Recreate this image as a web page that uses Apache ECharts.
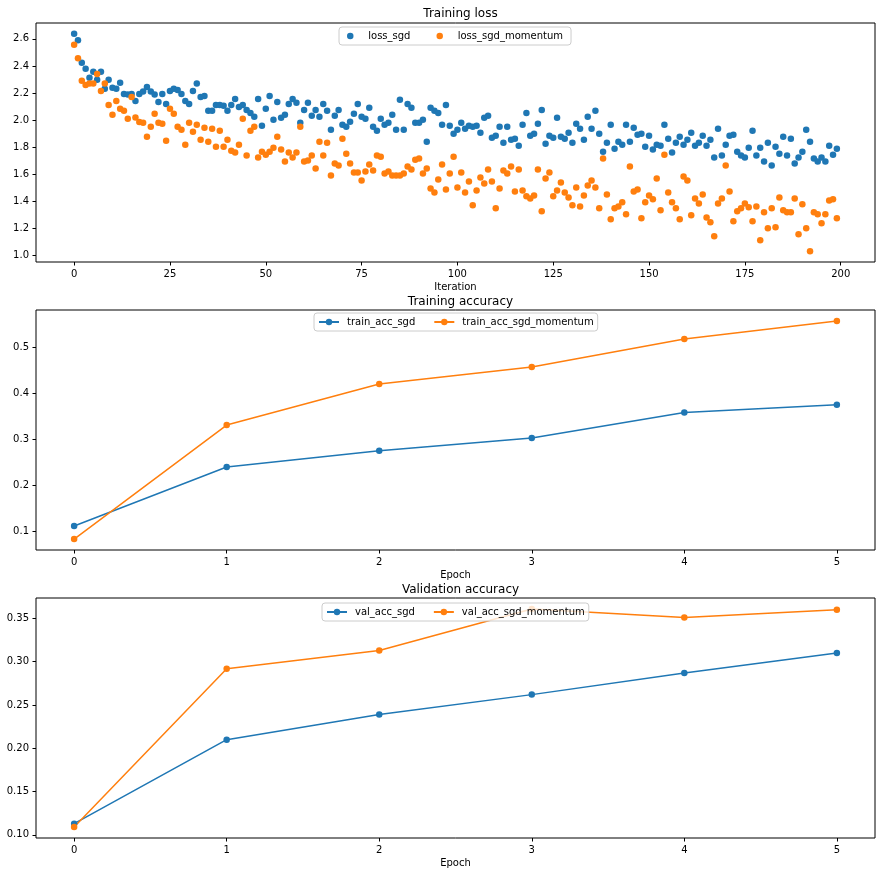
<!DOCTYPE html>
<html><head><meta charset="utf-8">
<script src="https://cdn.jsdelivr.net/npm/echarts@6/dist/echarts.min.js"></script>
<style>html,body{margin:0;padding:0;background:#fff}#c{width:884px;height:876px}</style>
</head><body><div id="c"></div>
<script>
// ---- data ----
const lossSgd = [
2.637,2.590,2.424,2.380,2.314,2.358,2.299,2.358,2.233,2.299,
2.240,2.233,2.277,2.194,2.189,2.194,2.142,2.194,2.211,2.245,
2.211,2.189,2.135,2.194,2.120,2.216,2.233,2.223,2.194,2.142,
2.120,2.216,2.270,2.172,2.179,2.069,2.069,2.113,2.113,2.106,
2.069,2.113,2.157,2.098,2.113,2.076,2.054,2.025,2.157,1.959,
2.084,2.179,2.003,2.135,2.018,2.040,2.120,2.157,2.128,1.981,
2.076,2.128,2.032,2.076,2.025,2.120,2.069,1.930,2.032,2.076,
1.966,1.952,1.988,2.047,2.120,2.025,2.010,2.091,1.952,1.922,
2.010,1.966,1.981,2.040,1.930,2.150,1.930,2.120,2.091,1.981,
1.981,2.003,1.841,2.091,2.069,2.054,1.966,2.113,1.959,1.900,
1.930,1.981,1.937,1.959,1.952,1.959,1.907,2.018,2.032,1.871,
1.885,1.952,1.834,1.952,1.856,1.863,1.812,1.966,2.054,1.885,
1.900,1.974,2.076,1.827,1.885,1.871,2.018,1.878,1.863,1.907,
1.834,1.974,1.937,1.856,2.025,1.937,2.069,1.900,1.768,1.834,
1.966,1.790,1.841,1.819,1.966,1.841,1.944,1.893,1.900,1.805,
1.885,1.783,1.819,1.812,1.966,1.863,1.761,1.834,1.878,1.819,
1.856,1.907,1.812,1.834,1.885,1.812,1.856,1.724,1.937,1.739,
1.819,1.885,1.893,1.768,1.739,1.724,1.797,1.922,1.739,1.797,
1.695,1.834,1.665,1.805,1.753,1.878,1.739,1.863,1.680,1.724,
1.768,1.930,1.841,1.717,1.695,1.724,1.695,1.812,1.746,1.790
];
const lossMomentum = [
2.556,2.458,2.292,2.260,2.270,2.270,2.341,2.216,2.270,2.113,
2.040,2.142,2.084,2.069,2.010,2.172,2.020,1.986,1.981,1.878,
1.952,2.047,1.981,1.974,1.849,2.084,2.047,1.952,1.930,1.819,
1.981,1.915,1.966,1.856,1.944,1.841,1.937,1.805,1.922,1.805,
1.856,1.775,1.761,1.819,2.010,1.739,1.922,1.952,1.724,1.768,
1.746,1.768,1.797,1.878,1.783,1.695,1.761,1.724,1.761,1.952,
1.695,1.702,1.739,1.643,1.841,1.739,1.834,1.592,1.680,1.665,
1.863,1.753,1.680,1.614,1.614,1.555,1.621,1.673,1.628,1.739,
1.731,1.606,1.621,1.592,1.592,1.592,1.606,1.658,1.636,1.709,
1.717,1.606,1.643,1.496,1.467,1.562,1.673,1.489,1.606,1.731,
1.504,1.614,1.467,1.548,1.372,1.482,1.577,1.533,1.636,1.548,
1.350,1.496,1.628,1.606,1.658,1.474,1.636,1.482,1.438,1.423,
1.445,1.636,1.328,1.570,1.614,1.438,1.482,1.540,1.467,1.430,
1.372,1.504,1.364,1.445,1.518,1.555,1.504,1.350,1.717,1.452,
1.269,1.350,1.364,1.394,1.306,1.658,1.474,1.489,1.276,1.394,
1.445,1.416,1.570,1.335,1.746,1.467,1.394,1.350,1.269,1.584,
1.555,1.298,1.423,1.386,1.452,1.283,1.247,1.144,1.386,1.423,
1.665,1.474,1.254,1.328,1.350,1.386,1.357,1.254,1.364,1.114,
1.320,1.203,1.350,1.210,1.430,1.335,1.320,1.320,1.423,1.159,
1.379,1.203,1.034,1.320,1.306,1.239,1.306,1.408,1.416,1.276
];
const epochs = [0, 1, 2, 3, 4, 5];
const trainAccSgd = [0.112, 0.240, 0.275, 0.303, 0.358, 0.375];
const trainAccMomentum = [0.0835, 0.331, 0.420, 0.457, 0.518, 0.557];
const valAccSgd = [0.113, 0.210, 0.239, 0.262, 0.287, 0.310];
const valAccMomentum = [0.109, 0.292, 0.313, 0.361, 0.351, 0.360];
const iterTicks = [0, 25, 50, 75, 100, 125, 150, 175, 200];
const lossTicks = [1.0, 1.2, 1.4, 1.6, 1.8, 2.0, 2.2, 2.4, 2.6];
const trainTicks = [0.1, 0.2, 0.3, 0.4, 0.5];
const valTicks = [0.10, 0.15, 0.20, 0.25, 0.30, 0.35];

// ---- chart ----
const FONT = 'DejaVu Sans';
const C1 = '#1f77b4', C2 = '#ff7f0e';
function xAx(gi, min, max, ticks, name) {
  return {
    type: 'value', gridIndex: gi, min: min, max: max,
    name: name, nameLocation: 'middle', nameGap: 20,
    nameTextStyle: {fontSize: 10, color: '#000', fontFamily: FONT},
    axisLine: {show: false, onZero: false},
    axisTick: {show: true, length: 3.5, customValues: ticks, lineStyle: {color: '#000', width: 1}},
    axisLabel: {customValues: ticks, margin: 7, fontSize: 10, color: '#000', fontFamily: FONT},
    splitLine: {show: false}
  };
}
function yAx(gi, min, max, ticks, dec) {
  return {
    type: 'value', gridIndex: gi, min: min, max: max,
    axisLine: {show: false, onZero: false},
    axisTick: {show: true, length: 3.5, customValues: ticks, lineStyle: {color: '#000', width: 1}},
    axisLabel: {customValues: ticks, margin: 7, fontSize: 10, color: '#000', fontFamily: FONT,
      formatter: function (v) { return Number(v).toFixed(dec); }},
    splitLine: {show: false}
  };
}
function title(text, top) {
  return {text: text, left: 455.5, top: top, textAlign: 'center',
    textStyle: {fontSize: 12, fontWeight: 'normal', color: '#000', fontFamily: FONT}};
}
function legend(names, left, top, ih, gap, pad) {
  return {
    data: names, left: left, top: top, orient: 'horizontal',
    itemWidth: 20, itemHeight: ih, itemGap: gap, padding: pad,
    selectedMode: false,
    backgroundColor: 'rgba(255,255,255,0.8)', borderColor: '#cccccc', borderWidth: 1, borderRadius: 3,
    textStyle: {fontSize: 10, color: '#000', fontFamily: FONT, padding: [0, 0, 0, 3]}
  };
}
function lineS(name, gi, xs, ys, color) {
  return {
    type: 'line', name: name, xAxisIndex: gi, yAxisIndex: gi,
    data: xs.map(function (x, i) { return [x, ys[i]]; }),
    symbol: 'circle', symbolSize: 6.5, showSymbol: true,
    lineStyle: {width: 1.5, color: color}, itemStyle: {color: color}
  };
}
function scatterS(name, ys, color) {
  return {
    type: 'scatter', name: name, xAxisIndex: 0, yAxisIndex: 0,
    data: ys.map(function (v, i) { return [i, v]; }),
    symbol: 'circle', symbolSize: 6.5, itemStyle: {color: color, opacity: 1}
  };
}
const chart = echarts.init(document.getElementById('c'), null, {renderer: 'canvas'});
chart.setOption({
  animation: false,
  backgroundColor: '#fff',
  title: [title('Training loss', 2.5), title('Training accuracy', 290.5), title('Validation accuracy', 578.5)],
  grid: [
    {left: 36, width: 839, top: 23, height: 239, show: true, borderColor: '#000', borderWidth: 1, backgroundColor: 'transparent'},
    {left: 36, width: 839, top: 310, height: 240, show: true, borderColor: '#000', borderWidth: 1, backgroundColor: 'transparent'},
    {left: 36, width: 839, top: 598, height: 240, show: true, borderColor: '#000', borderWidth: 1, backgroundColor: 'transparent'}
  ],
  xAxis: [
    xAx(0, -9.95, 208.95, iterTicks, 'Iteration'),
    xAx(1, -0.25, 5.25, epochs, 'Epoch'),
    xAx(2, -0.25, 5.25, epochs, 'Epoch')
  ],
  yAxis: [
    yAx(0, 0.9538, 2.7172, lossTicks, 1),
    yAx(1, 0.0598, 0.5807, trainTicks, 1),
    yAx(2, 0.0964, 0.3736, valTicks, 2)
  ],
  legend: [
    legend(['loss_sgd', 'loss_sgd_momentum'], 339, 27, 6.5, 26, [4, 8]),
    legend(['train_acc_sgd', 'train_acc_sgd_momentum'], 314, 313, 8, 18, [4, 4]),
    legend(['val_acc_sgd', 'val_acc_sgd_momentum'], 322, 603, 8, 18, [4, 4])
  ],
  series: [
    scatterS('loss_sgd', lossSgd, C1),
    scatterS('loss_sgd_momentum', lossMomentum, C2),
    lineS('train_acc_sgd', 1, epochs, trainAccSgd, C1),
    lineS('train_acc_sgd_momentum', 1, epochs, trainAccMomentum, C2),
    lineS('val_acc_sgd', 2, epochs, valAccSgd, C1),
    lineS('val_acc_sgd_momentum', 2, epochs, valAccMomentum, C2)
  ]
});
</script>
</body></html>
